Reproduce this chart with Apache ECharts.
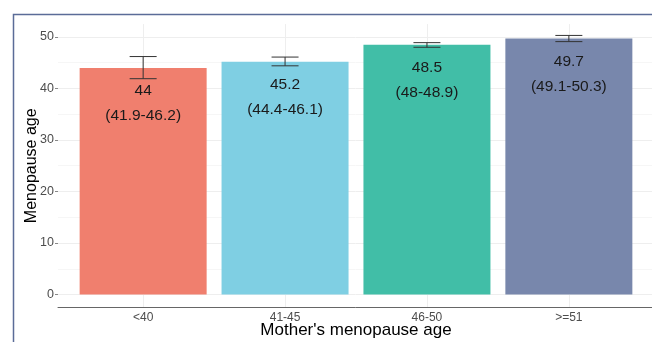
<!DOCTYPE html>
<html>
<head>
<meta charset="utf-8">
<script src="https://cdn.jsdelivr.net/npm/echarts@6/dist/echarts.min.js"></script>
<style>html,body{margin:0;padding:0;background:#fff}#c{width:652px;height:342px}</style>
</head>
<body>
<div id="c"></div>
<script>
const categories = ["<40", "41-45", "46-50", ">=51"];
const values = [44, 45.2, 48.5, 49.7];
const lows = ["41.9", "44.4", "48", "49.1"];
const highs = ["46.2", "46.1", "48.9", "50.3"];
const colors = ["#F07F6E", "#7FCFE3", "#41BEA7", "#7887AC"];
const yTicks = [0, 10, 20, 30, 40, 50];
const yMinor = [5, 15, 25, 35, 45];

const positions = categories.map((c, i) => i + 1);
const font = "Liberation Sans, Arial, sans-serif";

const chart = echarts.init(document.getElementById('c'));
chart.setOption({
  animation: false,
  backgroundColor: '#fff',
  graphic: [{
    type: 'rect', left: 11, top: 12, z: -10,
    shape: {width: 700, height: 400},
    style: {fill: 'none', stroke: '#5B6C98', lineWidth: 1.5}
  }],
  grid: {left: 58, right: -2, top: 24.1, bottom: 34.6, outerBoundsMode: 'none', containLabel: false},
  xAxis: [{
    type: 'value', min: 0.4, max: 4.6,
    name: "Mother's menopause age", nameLocation: 'middle', nameGap: 14, nameMoveOverlap: false,
    nameTextStyle: {fontFamily: font, fontSize: 17, color: '#000'},
    axisLine: {show: true, onZero: false, lineStyle: {color: '#666', width: 1}},
    axisTick: {show: false, customValues: positions},
    axisLabel: {customValues: positions, formatter: v => categories[Math.round(v) - 1],
      fontFamily: font, fontSize: 12, color: '#4d4d4d', margin: 4},
    splitLine: {show: true, lineStyle: {color: '#eeeeee', width: 1}}
  }],
  yAxis: [{
    type: 'value', min: -2.5, max: 52.5,
    name: 'Menopause age', nameLocation: 'middle', nameGap: 18, nameMoveOverlap: false,
    nameTextStyle: {fontFamily: font, fontSize: 16, color: '#000'},
    axisLine: {show: false},
    axisTick: {show: true, length: 3, customValues: yTicks, lineStyle: {color: '#888'}},
    axisLabel: {customValues: yTicks, fontFamily: font, fontSize: 12.5, color: '#4d4d4d', margin: 4},
    splitLine: {show: true, lineStyle: {color: '#eeeeee', width: 1}}
  }, {
    type: 'value', min: -2.5, max: 52.5, position: 'left',
    axisLine: {show: false}, axisLabel: {show: false},
    axisTick: {show: false, customValues: yMinor},
    splitLine: {show: true, lineStyle: {color: '#f6f6f6', width: 1}}
  }],
  series: [{
    type: 'bar',
    barWidth: 127,
    data: values.map((v, i) => ({value: [positions[i], v], itemStyle: {color: colors[i]}})),
    label: {
      show: true, position: 'insideTop', distance: 11,
      formatter: p => values[p.dataIndex] + '\n(' + lows[p.dataIndex] + '-' + highs[p.dataIndex] + ')',
      fontFamily: font, fontSize: 15.5, lineHeight: 24.5, color: '#1a1a1a'
    },
    z: 2
  }, {
    type: 'custom',
    z: 5,
    data: values.map((v, i) => [positions[i], +lows[i], +highs[i]]),
    renderItem: (params, api) => {
      const x = api.value(0);
      const lo = api.coord([x, api.value(1)]);
      const hi = api.coord([x, api.value(2)]);
      const w = 13.5;
      const st = {stroke: '#333', lineWidth: 1};
      return {type: 'group', children: [
        {type: 'line', shape: {x1: lo[0], y1: lo[1], x2: hi[0], y2: hi[1]}, style: st},
        {type: 'line', shape: {x1: lo[0] - w, y1: lo[1], x2: lo[0] + w, y2: lo[1]}, style: st},
        {type: 'line', shape: {x1: hi[0] - w, y1: hi[1], x2: hi[0] + w, y2: hi[1]}, style: st}
      ]};
    }
  }]
});
</script>
</body>
</html>
